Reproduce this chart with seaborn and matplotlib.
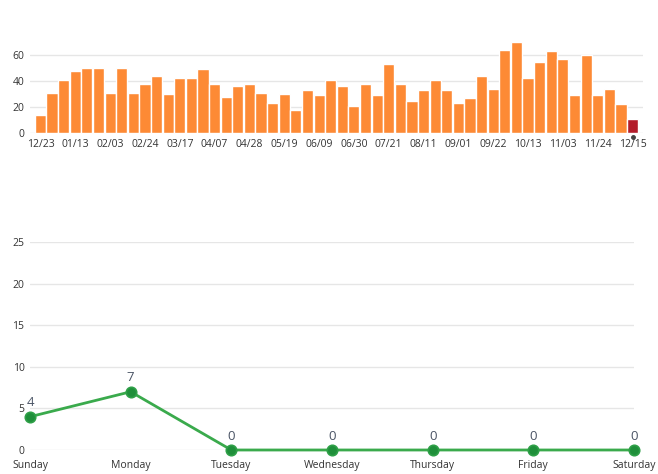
import numpy as np
import pandas as pd
import matplotlib
matplotlib.use("Agg")
import matplotlib.pyplot as plt
import seaborn as sns

# weekly counts, 12/23 .. 12/15 (last one is the current week)
week_labels = ["12/23", "12/30", "01/06", "01/13", "01/20", "01/27", "02/03", "02/10",
               "02/17", "02/24", "03/03", "03/10", "03/17", "03/24", "03/31", "04/07",
               "04/14", "04/21", "04/28", "05/05", "05/12", "05/19", "05/26", "06/02",
               "06/09", "06/16", "06/23", "06/30", "07/07", "07/14", "07/21", "07/28",
               "08/04", "08/11", "08/18", "08/25", "09/01", "09/08", "09/15", "09/22",
               "09/29", "10/06", "10/13", "10/20", "10/27", "11/03", "11/10", "11/17",
               "11/24", "12/01", "12/08", "12/15"]
week_counts = [14, 31, 41, 48, 50, 50, 31, 50, 31, 38, 44, 30, 42, 42, 49, 38,
               28, 36, 38, 31, 23, 30, 18, 33, 29, 41, 36, 21, 38, 29, 53, 38,
               25, 33, 41, 33, 23, 27, 44, 34, 64, 70, 42, 55, 63, 57, 29, 60,
               29, 34, 22, 11]

days = ["Sunday", "Monday", "Tuesday", "Wednesday", "Thursday", "Friday", "Saturday"]
day_counts = [4, 7, 0, 0, 0, 0, 0]

sns.set_theme(style="white")
plt.rcParams['font.family'] = ['Open Sans', 'DejaVu Sans']

orange = "#fd8a35"
red = "#b31d2b"
grid_c = "#e6e6e6"
text_c = "#333333"

fig = plt.figure(figsize=(6.58, 4.74), dpi=100)

# ---- top: weekly bars ----
ax1 = fig.add_axes([30 / 658, 341 / 474, 613 / 658, 91 / 474])
wk = pd.DataFrame({"week": week_labels, "count": week_counts})
colors = [orange] * (len(week_labels) - 1) + [red]
sns.barplot(data=wk, x="week", y="count", hue="week", palette=colors,
            legend=False, width=0.96, saturation=1, ax=ax1, zorder=2)
ax1.set_xlim(-0.9, len(week_labels) - 0.1)
ax1.set_ylim(0, 70)
ax1.set_yticks([0, 20, 40, 60])
ax1.yaxis.grid(True, color=grid_c, lw=1, zorder=0)
ax1.set_axisbelow(True)
tick_pos = list(range(0, len(week_labels), 3))
ax1.set_xticks(tick_pos)
ax1.set_xticklabels([week_labels[i] for i in tick_pos])
ax1.tick_params(axis="x", length=3, width=0.8, color="#cccccc", pad=1,
                labelsize=7.5, labelcolor=text_c)
ax1.tick_params(axis="y", length=0, pad=4, labelsize=7.5, labelcolor=text_c)
ax1.set_xlabel("")
ax1.set_ylabel("")
for s in ax1.spines.values():
    s.set_visible(False)
# current week marker
ax1.plot([len(week_labels) - 1], [-3], marker="o", ms=2.5, color="#444444",
         clip_on=False, zorder=5)

# ---- bottom: day of week line ----
ax2 = fig.add_axes([30 / 658, 24 / 474, 604 / 658, 208 / 474])
dd = pd.DataFrame({"day": days, "count": day_counts})
sns.lineplot(data=dd, x="day", y="count", color="#3aaa4c", lw=2, sort=False,
             ax=ax2, zorder=3)
ax2.plot(range(len(days)), day_counts, ls="none", marker="o", ms=7.5,
         mfc="#1f8f3a", mec="#2fa048", mew=1.2, clip_on=False, zorder=4)
for s in ax2.lines:
    s.set_clip_on(False)
ax2.set_xlim(0, len(days) - 1)
ax2.set_ylim(0, 25)
ax2.set_yticks([0, 5, 10, 15, 20, 25])
ax2.yaxis.grid(True, color=grid_c, lw=1, zorder=0)
ax2.set_axisbelow(True)
ax2.tick_params(axis="x", length=0, pad=7, labelsize=7.5, labelcolor=text_c)
ax2.tick_params(axis="y", length=0, pad=4, labelsize=7.5, labelcolor=text_c)
ax2.set_xlabel("")
ax2.set_ylabel("")
for s in ax2.spines.values():
    s.set_visible(False)
for i, v in enumerate(day_counts):
    ax2.annotate(str(v), (i, v), xytext=(0, 10), textcoords="offset points",
                 ha="center", va="center", fontsize=9.5, color="#4a5465",
                 annotation_clip=False)

fig.savefig("out.png", dpi=100)
